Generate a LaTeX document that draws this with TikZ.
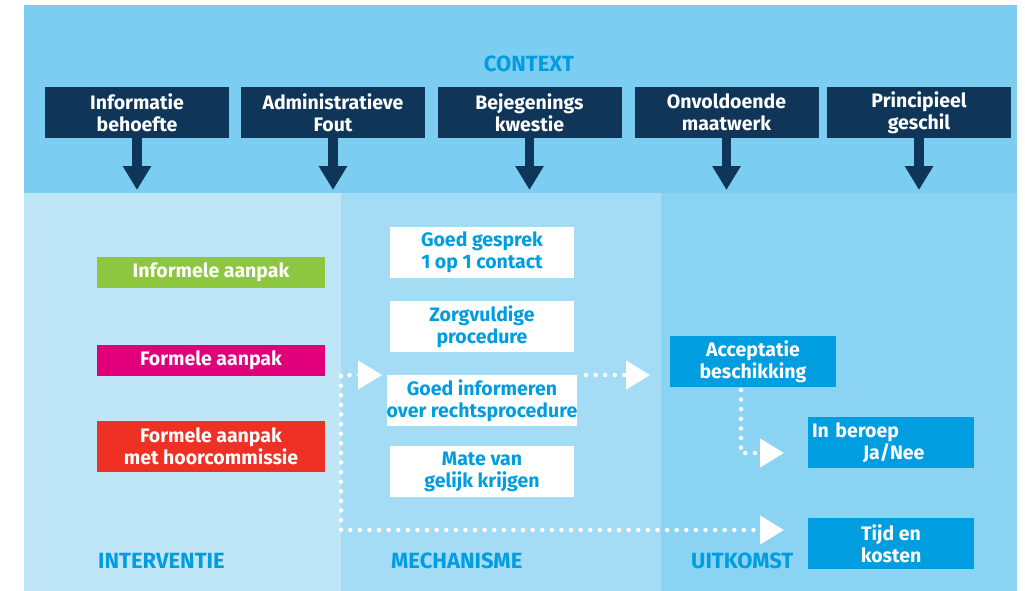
\documentclass[tikz,border=0pt]{standalone}
\usepackage{fontspec}
\setmainfont{Fira Sans}
\usetikzlibrary{arrows.meta}
\definecolor{topband}{RGB}{123,205,242}
\definecolor{colA}{RGB}{190,230,247}
\definecolor{colB}{RGB}{165,220,245}
\definecolor{colC}{RGB}{138,211,242}
\definecolor{darkbox}{RGB}{15,54,89}
\definecolor{cyanbox}{RGB}{0,158,224}
\definecolor{greenbox}{RGB}{141,198,63}
\definecolor{magbox}{RGB}{226,0,122}
\definecolor{redbox}{RGB}{238,49,36}
\tikzset{
  base/.style={inner sep=0pt, align=center, font=\bfseries\fontsize{19.5}{22}\selectfont, text=white},
  ctxbox/.style={base, fill=darkbox, minimum width=184pt, minimum height=51pt},
  intbox/.style={base, minimum width=228pt},
  mechbox/.style={base, fill=white, text=cyanbox, minimum width=184pt, minimum height=51pt},
  outbox/.style={base, fill=cyanbox, minimum width=166pt, minimum height=51pt},
  collabel/.style={anchor=base west, inner sep=0pt, text=cyanbox, font=\bfseries\fontsize{22}{24}\selectfont},
  bigarrow/.style={darkbox, line width=9.4pt, -{Triangle[length=24pt,width=27pt]}},
  dotline/.style={white, line width=4.5pt, line cap=round, dash pattern=on 0pt off 9.6pt},
  dottip/.style={{Triangle[length=24pt,width=28pt]}-{Triangle[length=24pt,width=28pt]}},
}
\begin{document}
\begin{tikzpicture}[x=1pt,y=-1pt]
\useasboundingbox (0,0) rectangle (1025,591);
\fill[white] (0,0) rectangle (1025,591);
% backgrounds
\fill[topband] (24,5) rectangle (1017,193);
\fill[colA] (24,193) rectangle (341,591);
\fill[colB] (341,193) rectangle (661,591);
\fill[colC] (661,193) rectangle (1017,591);
% context
\node[anchor=base, inner sep=0pt, text=cyanbox, font=\bfseries\fontsize{22}{24}\selectfont] (ctx) at (529,72) {CONTEXT};
\node[ctxbox] (c1) at (137,112.5) {Informatie\\behoefte};
\node[ctxbox] (c2) at (333,112.5) {Administratieve\\Fout};
\node[ctxbox] (c3) at (529.5,112.5) {Bejegenings\\kwestie};
\node[ctxbox] (c4) at (726.5,112.5) {Onvoldoende\\maatwerk};
\node[ctxbox] (c5) at (919,112.5) {Principieel\\geschil};
\foreach \i/\x in {1/137,2/333,3/529.5,4/726.5,5/919}{
  \coordinate (t\i) at (\x,190);
  \draw[bigarrow] (c\i.south) -- (t\i);
}
% interventie
\node[intbox, fill=greenbox, minimum height=31pt] (i1) at (211,272.5) {Informele aanpak};
\node[intbox, fill=magbox, minimum height=31pt] (i2) at (211,360.5) {Formele aanpak};
\node[intbox, fill=redbox, minimum height=51pt] (i3) at (211,446.5) {Formele aanpak\\met hoorcommissie};
% mechanisme
\node[mechbox] (m1) at (482,252.5) {Goed gesprek\\1 op 1 contact};
\node[mechbox] (m2) at (482,326.5) {Zorgvuldige\\procedure};
\node[mechbox] (m3) at (482,400.5) {Goed informeren\\over rechtsprocedure};
\node[mechbox] (m4) at (482,471.5) {Mate van\\gelijk krijgen};
% uitkomst
\node[outbox] (o1) at (753,361.5) {Acceptatie\\beschikking};
\node[outbox, align=left, text width=158pt] (o2) at (891,442.5) {In beroep\\\hspace*{51pt}Ja/Nee};
\node[outbox] (o3) at (891,543.5) {Tijd en\\kosten};
% column labels
\node[collabel] (l1) at (98,568) {INTERVENTIE};
\node[collabel] (l2) at (391,568) {MECHANISME};
\node[collabel] (l3) at (691,568) {UITKOMST};
% dotted connectors
\coordinate (p1) at (382,375);
\coordinate (p2) at (341,375);
\coordinate (p3) at (341,530);
\coordinate (p4) at (784,530);
\draw[dotline, dottip] (p1) -- (p2) -- (p3) -- (p4);
\coordinate (q1) at (586,375);
\coordinate (q2) at (650,375);
\draw[dotline, -{Triangle[length=24pt,width=28pt]}] (q1) -- (q2);
\coordinate (r1) at (741,390);
\coordinate (r2) at (741,453);
\coordinate (r3) at (784,453);
\draw[dotline, -{Triangle[length=24pt,width=28pt]}] (r1) -- (r2) -- (r3);
\end{tikzpicture}
\end{document}
